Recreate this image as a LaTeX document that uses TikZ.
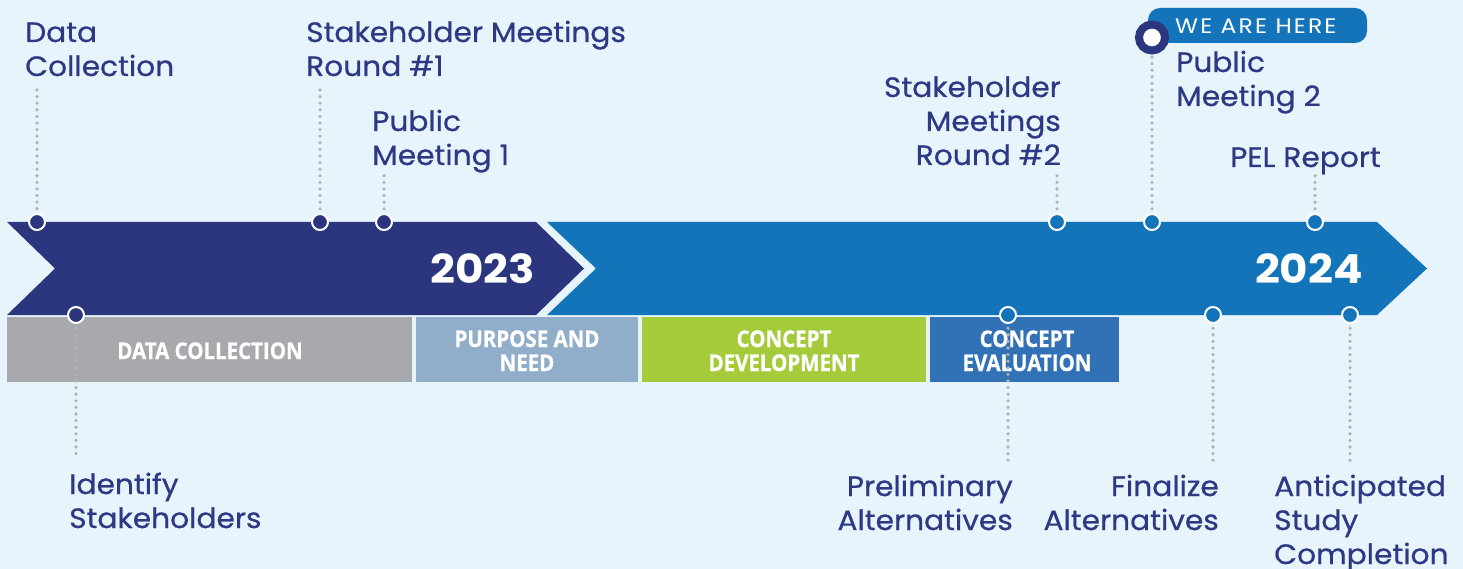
\documentclass[tikz,border=0pt]{standalone}
\usepackage{fontspec}
\setmainfont{Poppins}[FakeStretch=1.06, FakeBold=0.6]
\newfontfamily\condfont{Open Sans}[FakeStretch=0.89, FakeBold=0.8]
\newfontfamily\yearfont{Poppins}[FakeStretch=1.09]
\newfontfamily\pillfont{Poppins}[FakeStretch=1.12, LetterSpace=10]
\definecolor{bgc}{HTML}{E7F4FB}
\definecolor{navy}{HTML}{2B367E}
\definecolor{bluec}{HTML}{1474BA}
\definecolor{grayc}{HTML}{A7A9AC}
\definecolor{pnc}{HTML}{90ADCA}
\definecolor{greenc}{HTML}{A5CB3B}
\definecolor{cec}{HTML}{3172B6}
\definecolor{dotc}{HTML}{B3B3B3}
\definecolor{txtc}{HTML}{2D3984}
\tikzset{
  marker/.style={circle, draw=white, line width=2pt, minimum size=16pt, inner sep=0pt},
  leader/.style={draw=dotc, line width=3.6pt, line cap=round, dash pattern=on 0pt off 6.6pt},
  lbl/.style={inner sep=0pt, text=txtc, font=\fontsize{28}{34}\selectfont},
  barlbl/.style={inner sep=0pt, text=white, align=center, font=\condfont\bfseries\fontsize{23}{24}\selectfont},
  yearlbl/.style={inner sep=0pt, text=white, font=\yearfont\bfseries\fontsize{40}{44}\selectfont, anchor=base east}
}
\begin{document}
\begin{tikzpicture}[x=1pt,y=-1pt]
\fill[bgc] (0,0) rectangle (1463,569);
\useasboundingbox (0,0) rectangle (1463,569);
% arrows
\fill[navy] (7,222) -- (536,222) -- (584,268.5) -- (536,315) -- (7,315) -- (55,268.5) -- cycle;
\fill[bluec] (547,222) -- (1377,222) -- (1427,268.5) -- (1377,315) -- (547,315) -- (596,268.5) -- cycle;
\node[yearlbl] (y23) at (535,283) {2023};
\node[yearlbl] (y24) at (1363,283) {2024};
% bars
\fill[grayc] (7,317) rectangle (412,382);
\fill[pnc] (416,317) rectangle (638,382);
\fill[greenc] (642,317) rectangle (926,382);
\fill[cec] (930,317) rectangle (1119,382);
\node[barlbl, anchor=base] (bdc) at (210,359) {DATA COLLECTION};
\node[barlbl, anchor=base] (bpn) at (527,371) {PURPOSE AND\\NEED};
\node[barlbl, anchor=base] (bcd) at (784,371) {CONCEPT\\DEVELOPMENT};
\node[barlbl, anchor=base] (bce) at (1027,371) {CONCEPT\\EVALUATION};
% pill
\fill[bluec, rounded corners=12pt] (1148,8) rectangle (1367,43);
\node[inner sep=0pt, text=white, anchor=base west, font=\pillfont\fontsize{21}{24}\selectfont] (here) at (1175,34) {WE ARE HERE};
% leader ends
\coordinate (e1) at (37,88);
\coordinate (e2) at (320,88);
\coordinate (e3) at (384,175);
\coordinate (e4) at (1057,175);
\coordinate (e5) at (1152,55);
\coordinate (e6) at (1315,175);
\coordinate (f1) at (76,460);
\coordinate (f2) at (1008,462);
\coordinate (f3) at (1213,462);
\coordinate (f4) at (1350,462);
\coordinate (p1) at (37,222);
\coordinate (p2) at (320,222);
\coordinate (p3) at (384,222);
\coordinate (p4) at (1057,222);
\coordinate (p5) at (1152,222);
\coordinate (p6) at (1315,222);
\coordinate (q1) at (76,315);
\coordinate (q2) at (1008,315);
\coordinate (q3) at (1213,315);
\coordinate (q4) at (1350,315);
\foreach \i in {1,...,6} \draw[leader] (p\i) -- (e\i);
\foreach \i in {1,...,4} \draw[leader] (q\i) -- (f\i);
% markers
\node[marker, fill=navy] (m1) at (p1) {};
\node[marker, fill=navy] (m2) at (p2) {};
\node[marker, fill=navy] (m3) at (p3) {};
\node[marker, fill=bluec] (m4) at (p4) {};
\node[marker, fill=bluec] (m5) at (p5) {};
\node[marker, fill=bluec] (m6) at (p6) {};
\node[marker, fill=navy] (n1) at (q1) {};
\node[marker, fill=bluec] (n2) at (q2) {};
\node[marker, fill=bluec] (n3) at (q3) {};
\node[marker, fill=bluec] (n4) at (q4) {};
% we are here circle
\node[circle, fill=white, draw=navy, line width=8pt, minimum size=26pt, inner sep=0pt] (whc) at (1152,37.5) {};
% labels
\node[lbl, align=left, anchor=base west] (l1) at (25,76) {Data\\Collection};
\node[lbl, align=left, anchor=base west] (l2) at (306,76) {Stakeholder Meetings\\Round \#1};
\node[lbl, align=left, anchor=base west] (l3) at (372,165) {Public\\Meeting 1};
\node[lbl, align=right, anchor=base east] (l4) at (1061,165) {Stakeholder\\Meetings\\Round \#2};
\node[lbl, align=left, anchor=base west] (l5) at (1176,106) {Public\\Meeting 2};
\node[lbl, align=left, anchor=base west] (l6) at (1230,167) {PEL Report};
\node[lbl, align=left, anchor=base west] (l7) at (69,528) {Identify\\Stakeholders};
\node[lbl, align=right, anchor=base east] (l8) at (1013,530) {Preliminary\\Alternatives};
\node[lbl, align=right, anchor=base east] (l9) at (1219,530) {Finalize\\Alternatives};
\node[lbl, align=left, anchor=base west] (l10) at (1274,564) {Anticipated\\Study\\Completion};
\end{tikzpicture}
\end{document}
